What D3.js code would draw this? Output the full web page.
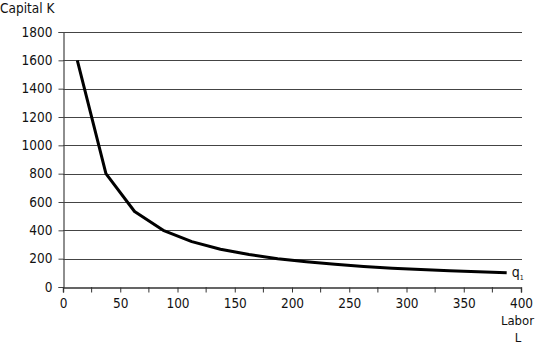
<!DOCTYPE html>
<html>
<head>
<meta charset="utf-8">
<script src="https://cdn.jsdelivr.net/npm/d3@7"></script>
<style>
  html, body { margin: 0; padding: 0; background: #fff; }
  svg { display: block; }
  text { font-family: "Liberation Sans Narrow", "DejaVu Sans Condensed", "Roboto", sans-serif; fill: #111; }
</style>
</head>
<body>
<svg id="chart" width="535" height="344"></svg>
<script>
// Isoquant q1: capital needed for each amount of labor
const labor = [12.5, 37.5, 62.5, 87.5, 112.5, 137.5, 162.5, 187.5, 212.5, 237.5, 262.5, 287.5, 312.5, 337.5, 362.5, 387.5];
const capital = [1600, 800, 533, 400, 320, 267, 229, 200, 178, 160, 145, 133, 123, 114, 107, 100];
const xTicks = [0, 50, 100, 150, 200, 250, 300, 350, 400];
const xMinorTicks = [25, 75, 125, 175, 225, 275, 325, 375];
const yTicks = [0, 200, 400, 600, 800, 1000, 1200, 1400, 1600, 1800];

const svg = d3.select("#chart");
const plotLeft = 63, plotRight = 521, plotTop = 32, plotBottom = 287;

const x = d3.scaleLinear().domain([0, 400]).range([plotLeft, plotRight]);
const y = d3.scaleLinear().domain([0, 1800]).range([plotBottom, plotTop]);

// horizontal gridlines
svg.append("g")
  .selectAll("line")
  .data(yTicks.filter(d => d > 0))
  .join("line")
  .attr("x1", plotLeft).attr("x2", plotRight + 1)
  .attr("y1", d => Math.round(y(d)) + 0.5).attr("y2", d => Math.round(y(d)) + 0.5)
  .attr("stroke", "#444").attr("stroke-width", 1.2);

// y axis
const yAxis = svg.append("g")
  .attr("transform", `translate(${plotLeft + 0.5},0)`)
  .call(d3.axisLeft(y).tickValues(yTicks).tickSize(5).tickPadding(6).tickFormat(d3.format("d")));
yAxis.select(".domain").attr("stroke", "#444").attr("stroke-width", 1.2);
yAxis.selectAll(".tick line").attr("stroke", "#444");

// x axis
const xAxis = svg.append("g")
  .attr("transform", `translate(0,${plotBottom + 0.5})`)
  .call(d3.axisBottom(x).tickValues(xTicks).tickSize(5).tickPadding(6).tickFormat(d3.format("d")));
xAxis.select(".domain").attr("stroke", "#333").attr("stroke-width", 1.4);
xAxis.selectAll(".tick line").attr("stroke", "#333");
svg.append("g")
  .selectAll("line")
  .data(xMinorTicks)
  .join("line")
  .attr("x1", d => x(d)).attr("x2", d => x(d))
  .attr("y1", plotBottom).attr("y2", plotBottom + 5.5)
  .attr("stroke", "#333");

// the axis groups carry their own font attributes; let the stylesheet apply
svg.selectAll("g").attr("font-family", null).attr("font-size", null);
svg.selectAll(".tick text").attr("font-size", 13.5);

// isoquant curve
const line = d3.line().x((d, i) => x(labor[i])).y(d => y(d));
svg.append("path")
  .datum(capital)
  .attr("d", line)
  .attr("fill", "none")
  .attr("stroke", "#000")
  .attr("stroke-width", 3)
  .attr("stroke-linejoin", "round");

// curve label
const last = labor.length - 1;
const q = svg.append("text")
  .attr("x", x(labor[last]) + 5)
  .attr("y", y(capital[last]) + 4)
  .attr("font-size", 14);
q.append("tspan").text("q");
q.append("tspan").attr("font-size", 7).attr("dy", 3).text("1");

// axis titles
svg.append("text").attr("x", 0).attr("y", 13).attr("font-size", 13.5).text("Capital K");
svg.append("text").attr("x", 534).attr("y", 325).attr("text-anchor", "end").attr("font-size", 13).text("Labor");
svg.append("text").attr("x", 518).attr("y", 342).attr("text-anchor", "middle").attr("font-size", 13).text("L");
</script>
</body>
</html>
